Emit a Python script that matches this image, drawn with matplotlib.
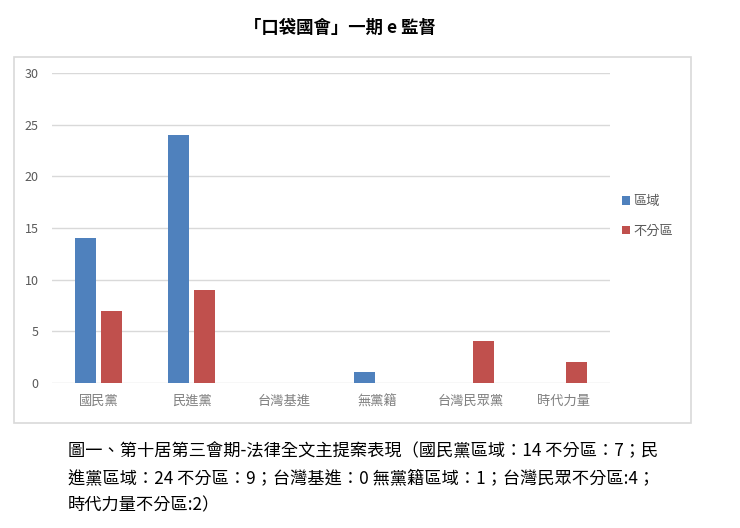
import matplotlib
matplotlib.use("Agg")
import matplotlib.pyplot as plt
from matplotlib.patches import Rectangle
import numpy as np

plt.rcParams['font.family'] = ['Noto Sans CJK TC', 'DejaVu Sans']

categories = ['國民黨', '民進黨', '台灣基進', '無黨籍', '台灣民眾黨', '時代力量']
district = [14, 24, 0, 1, 0, 0]
at_large = [7, 9, 0, 0, 4, 2]
series_names = ['區域', '不分區']
yticks = [0, 5, 10, 15, 20, 25, 30]
title = '「口袋國會」一期 e 監督'
caption_lines = [
    '圖一、第十居第三會期-法律全文主提案表現（國民黨區域：14 不分區：7；民',
    '進黨區域：24 不分區：9；台灣基進：0 無黨籍區域：1；台灣民眾不分區:4；',
    '時代力量不分區:2）',
]

W, H = 740, 528
fig = plt.figure(figsize=(W / 100, H / 100), dpi=100)

def fx(px):
    return px / W

def fy(py):
    return 1 - py / H

# chart frame
fig.patches.append(Rectangle((fx(14), fy(423)), fx(691) - fx(14), fy(57) - fy(423),
                             transform=fig.transFigure, facecolor='white',
                             edgecolor='#d9d9d9', linewidth=1.2, zorder=-5))

ax = fig.add_axes([fx(52), fy(382.7), fx(610) - fx(52), fy(73.3) - fy(382.7)])
ax.set_zorder(2)
ax.set_facecolor('none')
x = np.arange(len(categories))
bw = 0.226
off = 0.145
blue = '#4f81bd'
red = '#c0504d'
ax.bar(x - off, district, bw, color=blue, label=series_names[0], zorder=3)
ax.bar(x + off, at_large, bw, color=red, label=series_names[1], zorder=3)
ax.set_xlim(-0.5, len(categories) - 0.5)
ax.set_ylim(0, 30)
ax.set_yticks(yticks)
ax.set_yticklabels([str(v) for v in yticks], fontsize=9, color='#595959')
ax.set_xticks(x)
ax.set_xticklabels(categories, fontsize=9.5, color='#7f7f7f')
ax.tick_params(axis='both', length=0)
ax.tick_params(axis='y', pad=9.5)
ax.tick_params(axis='x', pad=9)
ax.grid(axis='y', color='#d9d9d9', linewidth=1, zorder=0)
ax.set_axisbelow(True)
for s in ax.spines.values():
    s.set_visible(False)

leg = fig.legend(loc='upper left', bbox_to_anchor=(fx(617), fy(190)),
                 frameon=False, fontsize=9.5, handlelength=0.6, handleheight=0.6,
                 handletextpad=0.25, labelspacing=1.25, borderaxespad=0)
leg.set_zorder(3)
for t in leg.get_texts():
    t.set_color('#595959')

fig.text(fx(340), fy(28), title, ha='center', va='center', fontsize=12.5,
         fontweight='bold', color='black')

for i, line in enumerate(caption_lines):
    fig.text(fx(68), fy(451 + i * 27), line, ha='left', va='center',
             fontsize=12.4, color='black')

fig.savefig('out.png', dpi=100)
